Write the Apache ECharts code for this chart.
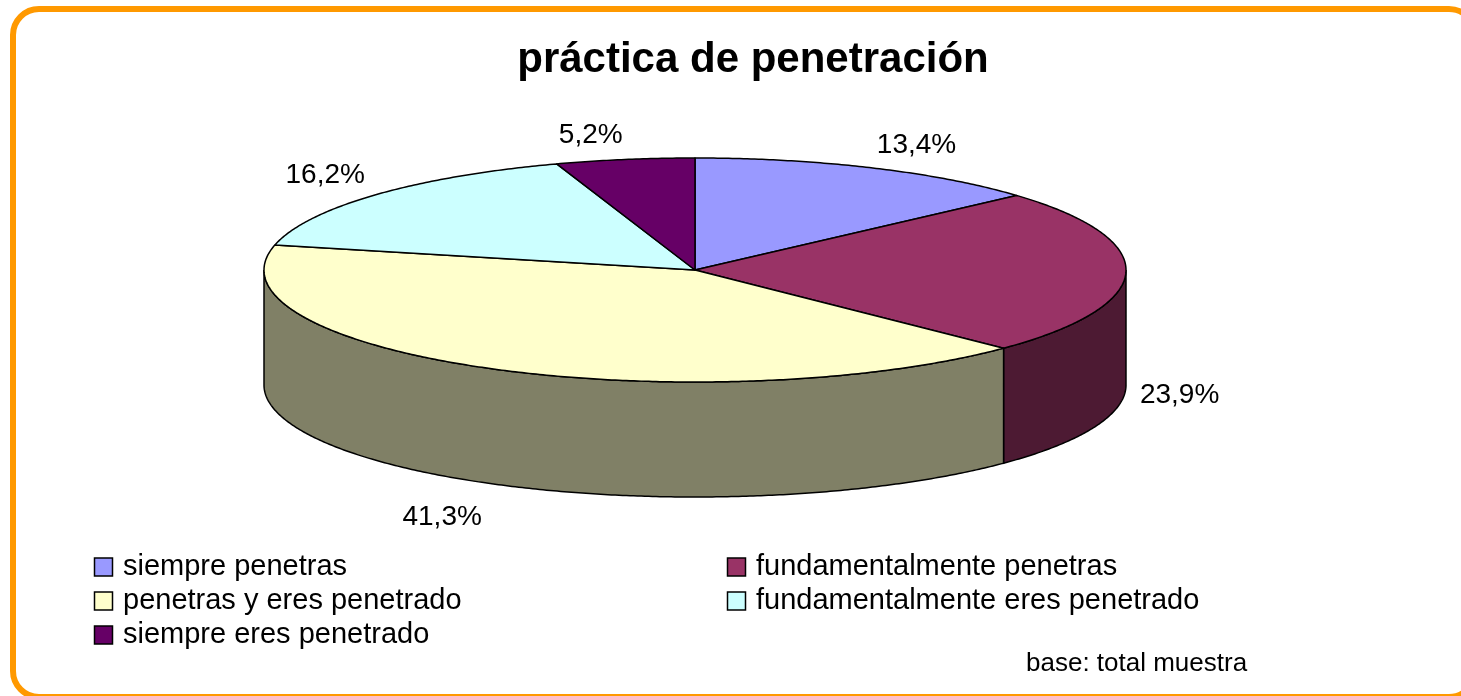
<!DOCTYPE html>
<html>
<head>
<meta charset="utf-8">
<script src="https://cdn.jsdelivr.net/npm/echarts@6/dist/echarts.min.js"></script>
<style>
html, body { margin: 0; padding: 0; background: #fff; }
#main { width: 1461px; height: 696px; }
</style>
</head>
<body>
<div id="main"></div>
<script>
var categories = ['siempre penetras', 'fundamentalmente penetras', 'penetras y eres penetrado',
    'fundamentalmente eres penetrado', 'siempre eres penetrado'];
var shares = [13.4, 23.9, 41.3, 16.2, 5.2];
var labels = ['13,4%', '23,9%', '41,3%', '16,2%', '5,2%'];
var colors = ['#9999FF', '#993366', '#FFFFCC', '#CCFFFF', '#660066'];

var FONT = '"Liberation Sans", Arial, sans-serif';
// pie layout (pixels)
var CX = 695, CY = 270, RX = 431, RY = 112, DEPTH = 115, GAP = 14;

var total = shares.reduce(function (a, b) { return a + b; }, 0);
var starts = [];
var acc = 0;
shares.forEach(function (v) { starts.push(acc); acc += v; });

function darker(hex) {
    var n = parseInt(hex.slice(1), 16);
    var r = Math.round((n >> 16 & 255) / 2), g = Math.round((n >> 8 & 255) / 2), b = Math.round((n & 255) / 2);
    return 'rgb(' + r + ',' + g + ',' + b + ')';
}
function pt(deg, dy) {
    var a = deg * Math.PI / 180;
    return [CX + RX * Math.sin(a), CY - RY * Math.cos(a) + (dy || 0)];
}
function arc(a0, a1, dy) {
    var out = [];
    var n = Math.max(2, Math.ceil((a1 - a0) / 0.5));
    for (var i = 0; i <= n; i++) out.push(pt(a0 + (a1 - a0) * i / n, dy));
    return out;
}

function renderSlice(params, api) {
    var i = params.dataIndex;
    var a0 = starts[i] / total * 360;
    var a1 = (starts[i] + api.value(0)) / total * 360;
    var children = [];
    // visible side wall (front half only)
    var s = Math.max(a0, 90), e = Math.min(a1, 270);
    if (s < e) {
        var wall = arc(s, e, 0).concat(arc(s, e, DEPTH).reverse());
        children.push({
            type: 'polygon',
            shape: { points: wall },
            style: { fill: darker(colors[i]), stroke: '#000', lineWidth: 1.5 }
        });
    }
    // top face
    var top = [[CX, CY]].concat(arc(a0, a1, 0));
    children.push({
        type: 'polygon',
        shape: { points: top },
        style: { fill: colors[i], stroke: '#000', lineWidth: 1.5, lineJoin: 'round' }
    });
    // data label
    var mid = (a0 + a1) / 2 * Math.PI / 180;
    var sn = Math.sin(mid), cs = Math.cos(mid);
    var front = cs < 0.05 ? DEPTH + 4 : 0;
    var lx = CX + (RX + GAP) * sn;
    var ly = CY - (RY + GAP) * cs + front + 4;
    var align = sn > 0.1 ? 'left' : (sn < -0.1 ? 'right' : 'center');
    var valign = cs > 0.3 ? 'bottom' : (cs < -0.3 ? 'top' : 'middle');
    children.push({
        type: 'text',
        z2: 10,
        style: {
            text: labels[i], x: lx, y: ly,
            align: align, verticalAlign: valign,
            textAlign: align, textVerticalAlign: valign,
            font: '28px ' + FONT, fill: '#000'
        }
    });
    return { type: 'group', children: children };
}

// legend built from the category list
var legendItems = [];
categories.forEach(function (name, i) {
    var col = i % 2, row = Math.floor(i / 2);
    var x = col === 0 ? 94 : 727;
    var y = 567 + row * 34;
    legendItems.push({
        type: 'rect',
        shape: { x: x + 0.5, y: y - 9, width: 18, height: 18 },
        style: { fill: colors[i], stroke: '#000', lineWidth: 1.5 }
    });
    legendItems.push({
        type: 'text',
        style: {
            text: name, x: x + 29, y: y,
            align: 'left', verticalAlign: 'middle',
            textAlign: 'left', textVerticalAlign: 'middle',
            font: '29px ' + FONT, fill: '#000'
        }
    });
});

var chart = echarts.init(document.getElementById('main'));
var option = {
    backgroundColor: '#fff',
    animation: false,
    graphic: [
        {
            type: 'rect',
            shape: { x: 13, y: 9, width: 1462, height: 688, r: 26 },
            style: { fill: 'none', stroke: '#FF9900', lineWidth: 6 }
        },
        {
            type: 'text',
            style: {
                text: 'práctica de penetración', x: 753, y: 60,
                align: 'center', verticalAlign: 'middle',
                textAlign: 'center', textVerticalAlign: 'middle',
                font: 'bold 42px ' + FONT, fill: '#000'
            }
        },
        {
            type: 'text',
            style: {
                text: 'base: total muestra', x: 1026, y: 664,
                align: 'left', verticalAlign: 'middle',
                textAlign: 'left', textVerticalAlign: 'middle',
                font: '26px ' + FONT, fill: '#000'
            }
        }
    ].concat(legendItems),
    series: [{
        type: 'custom',
        coordinateSystem: 'none',
        renderItem: renderSlice,
        data: shares.map(function (v, i) { return { name: categories[i], value: [v] }; })
    }]
};
chart.setOption(option);
</script>
</body>
</html>
